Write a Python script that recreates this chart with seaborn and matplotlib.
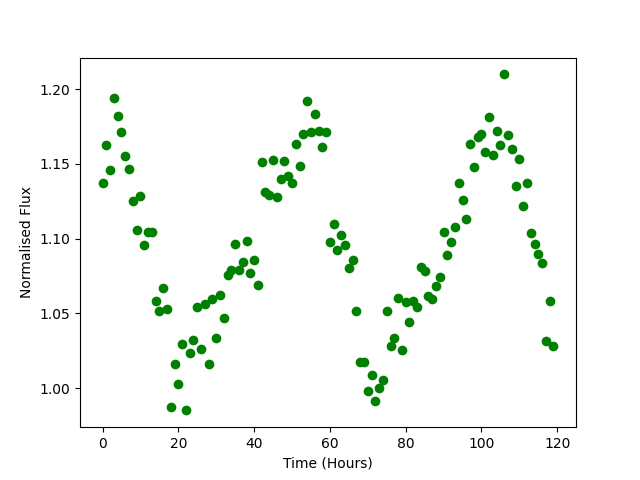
import matplotlib
matplotlib.use("Agg")
import matplotlib.pyplot as plt
import seaborn as sns
import numpy as np
import pandas as pd

time_hours = list(range(120))
flux = [
    1.1369, 1.1623, 1.1456, 1.1938, 1.1817, 1.1710, 1.1550, 1.1463, 1.1249, 1.1055,
    1.1284, 1.0955, 1.1041, 1.1041, 1.0582, 1.0513, 1.0667, 1.0526, 0.9871, 1.0159,
    1.0025, 1.0292, 0.9851, 1.0232, 1.0319, 1.0540, 1.0259, 1.0560, 1.0159, 1.0595,
    1.0334, 1.0620, 1.0468, 1.0756, 1.0790, 1.0963, 1.0790, 1.0843, 1.0983, 1.0769,
    1.0856, 1.0687, 1.1510, 1.1310, 1.1290, 1.1525, 1.1280, 1.1400, 1.1520, 1.1420,
    1.1370, 1.1630, 1.1485, 1.1700, 1.1920, 1.1710, 1.1830, 1.1720, 1.1610, 1.1710,
    1.0975, 1.1097, 1.0921, 1.1023, 1.0955, 1.0801, 1.0856, 1.0513, 1.0172, 1.0176,
    0.9978, 1.0085, 0.9911, 0.9998, 1.0052, 1.0513, 1.0279, 1.0332, 1.0600, 1.0252,
    1.0573, 1.0439, 1.0584, 1.0540, 1.0811, 1.0780, 1.0613, 1.0593, 1.0684, 1.0740,
    1.1041, 1.0890, 1.0980, 1.1075, 1.1375, 1.1260, 1.1128, 1.1630, 1.1480, 1.1680,
    1.1700, 1.1580, 1.1813, 1.1560, 1.1720, 1.1625, 1.2098, 1.1690, 1.1600, 1.1355,
    1.1530, 1.1215, 1.1370, 1.1040, 1.0967, 1.0894, 1.0834, 1.0312, 1.0580, 1.0280,
]

df = pd.DataFrame({"Time (Hours)": time_hours, "Normalised Flux": flux})

fig, ax = plt.subplots(figsize=(6.4, 4.8), dpi=100)
sns.scatterplot(data=df, x="Time (Hours)", y="Normalised Flux", color="green",
                s=49, linewidth=0, ax=ax)
ax.set_xlabel("Time (Hours)")
ax.set_ylabel("Normalised Flux")
fig.savefig("out.png", dpi=100)
